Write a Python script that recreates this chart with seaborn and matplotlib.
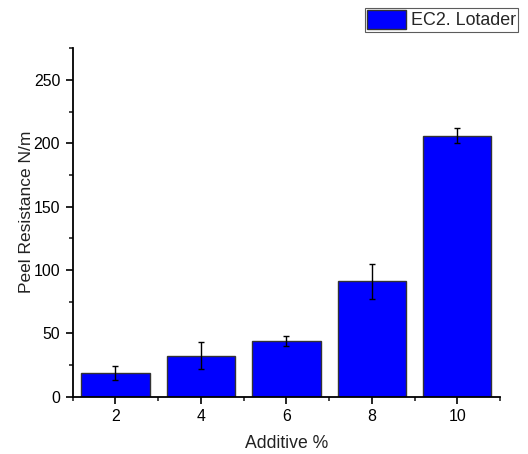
import matplotlib
matplotlib.use("Agg")
import matplotlib.pyplot as plt
import seaborn as sns
import pandas as pd
from matplotlib.ticker import MultipleLocator
from matplotlib.patches import Patch

additive = [2, 4, 6, 8, 10]
peel = [19, 32.5, 44, 91, 206]
err = [5.5, 10.8, 3.8, 14, 6]
series_name = "EC2. Lotader"

sns.set_theme(style="ticks")
plt.rcParams['font.family'] = ['Liberation Sans', 'DejaVu Sans']

df = pd.DataFrame({"Additive": additive, "Peel": peel})

fig = plt.figure(figsize=(5.28, 4.54), dpi=100)
ax = fig.add_axes([0.1377, 0.126, 0.947 - 0.1377, 0.8936 - 0.126])

sns.barplot(data=df, x="Additive", y="Peel", native_scale=True, width=0.8,
            color="#0000FF", saturation=1, edgecolor="#333333", linewidth=1.0,
            errorbar=None, ax=ax)
ax.errorbar(additive, peel, yerr=err, fmt="none", ecolor="black",
            elinewidth=1, capsize=2.5, capthick=1)

ax.set_xlim(1, 11)
ax.set_ylim(0, 275)
ax.set_xticks(additive)
ax.set_xticklabels([str(a) for a in additive])
ax.xaxis.set_minor_locator(MultipleLocator(1))
ax.yaxis.set_major_locator(MultipleLocator(50))
ax.yaxis.set_minor_locator(MultipleLocator(25))
ax.tick_params(axis="both", which="major", direction="out", length=5, width=1.2,
               labelsize=11.4, colors="black", pad=4)
ax.tick_params(axis="both", which="minor", direction="out", length=3, width=1.2)
sns.despine(ax=ax)
for s in ["left", "bottom"]:
    ax.spines[s].set_linewidth(1.3)
    ax.spines[s].set_color("black")

ax.set_xlabel("Additive %", fontsize=12.7, color="#222222", labelpad=8)
ax.set_ylabel("Peel Resistance N/m", fontsize=12.5, color="#222222", labelpad=0)
ax.yaxis.label.set_y(0.53)

handle = Patch(facecolor="#0000FF", edgecolor="#333333", linewidth=1.0, label=series_name)
leg = fig.legend(handles=[handle], loc="upper right", bbox_to_anchor=(518 / 528, 1 - 8 / 454),
                 fontsize=12.9, frameon=True, fancybox=False, edgecolor="#333333",
                 handlelength=2.2, handleheight=1.2, handletextpad=0.25,
                 borderpad=0.12, borderaxespad=0)
leg.get_frame().set_linewidth(0.8)

fig.savefig("out.png", dpi=100, facecolor="white")
